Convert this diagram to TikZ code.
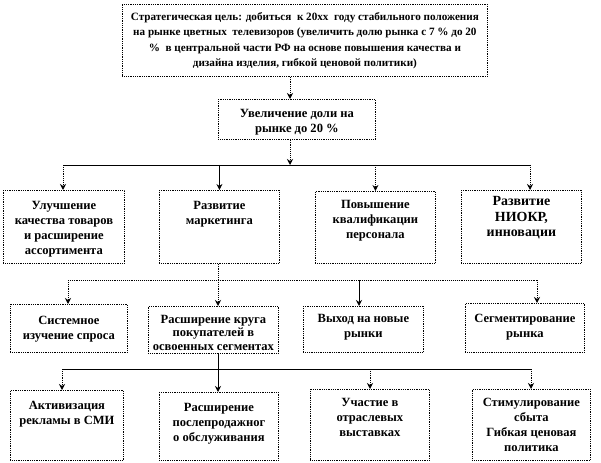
\documentclass[tikz,border=0pt]{standalone}
\usepackage{fontspec}
\setmainfont{Liberation Serif}
\usetikzlibrary{arrows.meta}
\tikzset{
  box/.style={draw=black, densely dotted, line width=0.8bp, inner sep=0pt,
    font=\fontsize{12.6}{15}\selectfont\bfseries},
  dotc/.style={draw=black, densely dotted, line width=0.9bp},
  solidc/.style={draw=black, line width=0.9bp},
  arr/.style={-{Stealth[length=6bp,width=6bp]}}
}
\newcommand\bxx[8][]{%
  \node[box,#1,anchor=north west] (#2) at (#3,#4)
   {\vbox to \dimexpr#6bp-#4bp\relax{\vskip#7bp
     \hbox to \dimexpr#5bp-#3bp\relax{\hss\begin{tabular}[t]{@{}c@{}}#8\end{tabular}\hss}\vss}};}
\begin{document}
\begin{tikzpicture}[x=1bp,y=-1bp]
\useasboundingbox (0,0) rectangle (601,463);
% boxes
\bxx[font=\fontsize{11.2}{15.5}\selectfont\bfseries]{top}{122}{4}{487}{76}{5}{Стратегическая цель: добиться \ к 20хх \ году стабильного положения\\на рынке цветных \ телевизоров (увеличить долю рынка с 7 \% до 20\\\% \ в центральной части РФ на основе повышения качества и\\дизайна изделия, гибкой ценовой политики)}
\bxx{inc}{218}{99}{375}{139}{7.5}{Увеличение доли на\\рынке до 20 \%}
\bxx{A}{3}{190}{124}{263}{8.5}{Улучшение\\качества товаров\\и расширение\\ассортимента}
\bxx{B}{159}{190}{279}{263}{8.5}{Развитие\\маркетинга}
\bxx{C}{315}{191}{435}{263}{6.5}{Повышение\\квалификации\\персонала}
\bxx[font=\fontsize{14}{15.5}\selectfont\bfseries]{D}{461}{190}{581}{263}{4.5}{Развитие\\НИОКР,\\инновации}
\bxx{E}{10}{304}{127}{352}{9.5}{Системное\\изучение спроса}
\bxx[font=\fontsize{12.6}{13.5}\selectfont\bfseries]{F}{148}{306}{278}{353}{7.5}{Расширение круга\\покупателей в\\освоенных сегментах}
\bxx{G}{303}{306}{423}{352}{5.5}{Выход на новые\\рынки}
\bxx{H}{465}{303}{584}{352}{8.5}{Сегментирование\\рынка}
\bxx{I}{10}{390}{123}{460}{8.5}{Активизация\\рекламы в СМИ}
\bxx{J}{159}{392}{278}{460}{8.5}{Расширение\\послепродажног\\о обслуживания}
\bxx{K}{310}{389}{429}{460}{6.5}{Участие в\\отраслевых\\выставках}
\bxx{L}{472}{389}{590}{460}{6.5}{Стимулирование\\сбыта\\Гибкая ценовая\\политика}
% coordinates
\coordinate (c0) at (290,0);
\coordinate (b1l) at (63,165);
\coordinate (b1m) at (290,165);
\coordinate (b1r) at (530,165);
\coordinate (b2l) at (68,280);
\coordinate (b2f) at (218,280);
\coordinate (b2g) at (359,280);
\coordinate (b2r) at (537,280);
\coordinate (b3l) at (62,369);
\coordinate (b3k) at (370,369);
\coordinate (b3r) at (531,369);
% level 1-2
\draw[dotc,arr] (top.south -| c0) -- (inc.north -| c0);
\draw[dotc,arr] (inc.south -| c0) -- (b1m);
% bus 1
\draw[solidc] (b1l) -- (b1r);
\draw[dotc,arr] (b1l) -- (A.north -| b1l);
\draw[solidc,arr] (B.north |- b1l) -- (B.north);
\draw[dotc,arr] (C.north |- b1l) -- (C.north);
\draw[dotc,arr] (b1r) -- (D.north -| b1r);
% bus 2
\draw[dotc] (B.south -| b2f) -- (b2f);
\draw[dotc] (b2l) -- (b2r);
\draw[dotc,arr] (b2l) -- (E.north -| b2l);
\draw[dotc,arr] (b2f) -- (F.north -| b2f);
\draw[solidc,arr] (b2g) -- (G.north -| b2g);
\draw[dotc,arr] (b2r) -- (H.north -| b2r);
% bus 3
\draw[solidc,arr] (F.south -| b2f) -- (J.north -| b2f);
\draw[solidc] (b3l) -- (b3r);
\draw[dotc,arr] (b3l) -- (I.north -| b3l);
\draw[dotc,arr] (b3k) -- (K.north -| b3k);
\draw[dotc,arr] (b3r) -- (L.north -| b3r);
\end{tikzpicture}
\end{document}
